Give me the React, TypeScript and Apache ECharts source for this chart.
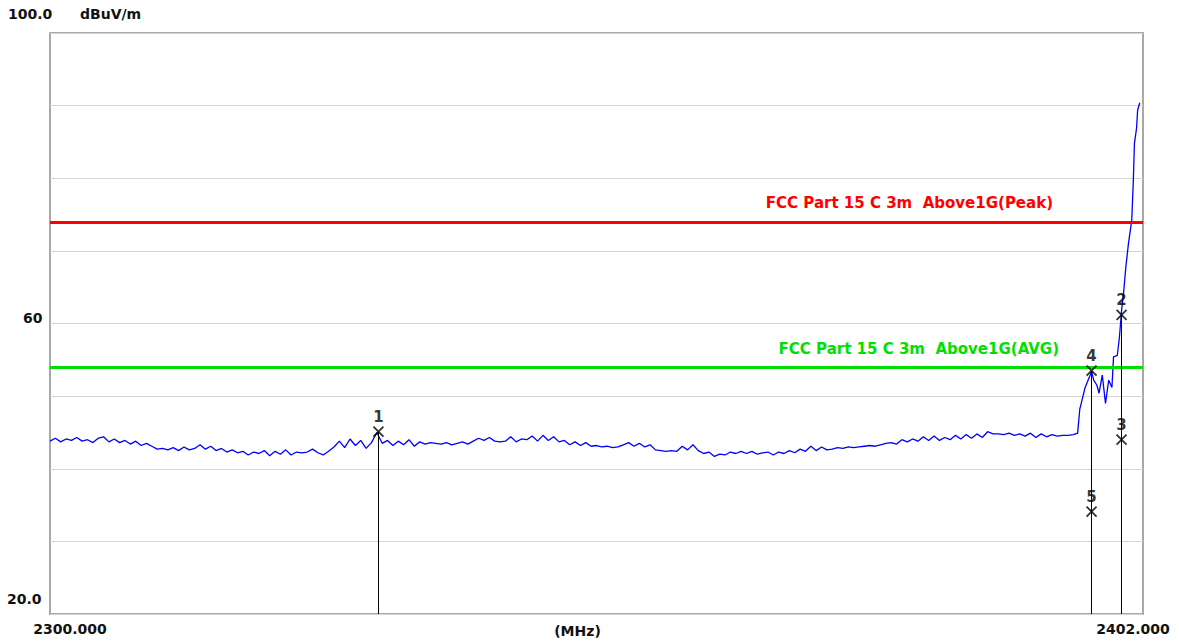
import React, { useEffect, useRef } from "react";
import * as echarts from "echarts";

const startFreq = 2300;
const stepFreq = 0.5;
const sweepLevels = [
  43.8, 44.2, 43.7, 44.1, 43.9, 44.3, 43.8, 44.0, 43.6, 44.2,
  44.4, 43.7, 44.1, 43.6, 43.9, 43.4, 43.8, 43.2, 43.5, 43.1,
  42.7, 42.8, 42.6, 42.9, 42.5, 43.0, 42.6, 42.8, 43.3, 42.7,
  43.1, 42.5, 42.8, 42.3, 42.6, 42.2, 42.4, 41.9, 42.3, 42.1,
  42.5, 41.8, 42.4, 42.0, 42.6, 41.9, 42.3, 42.2, 42.3, 42.7,
  42.2, 41.9, 42.4, 43.0, 43.8, 42.9, 44.1, 43.2, 43.9, 42.8,
  43.6, 45.0, 43.5, 43.9, 43.2, 43.8, 43.3, 44.0, 43.1, 43.7,
  43.4, 43.6, 43.5, 43.4, 43.6, 43.3, 43.5, 43.7, 43.4, 43.8,
  44.2, 43.9, 44.3, 43.8, 43.7, 43.8, 44.4, 43.7, 44.1, 44.0,
  44.5, 43.8, 44.6, 43.9, 44.4, 43.7, 43.9, 43.3, 43.7, 43.2,
  43.6, 43.1, 43.2, 43.0, 43.1, 42.9, 43.0, 43.3, 43.6, 43.1,
  43.5, 43.0, 43.3, 42.6, 42.5, 42.4, 42.5, 42.4, 43.1, 42.6,
  43.3, 42.5, 42.1, 42.3, 41.7, 42.0, 41.9, 42.3, 42.1, 42.4,
  42.1, 42.4, 42.0, 42.2, 42.3, 41.9, 42.3, 42.1, 42.5, 42.2,
  42.7, 42.4, 43.1, 42.5, 43.0, 42.6, 42.7, 42.9, 42.8, 43.0,
  42.9, 43.0, 43.1, 43.2, 43.1, 43.3, 43.5, 43.6, 43.4, 44.0,
  43.7, 44.1, 43.8, 44.4, 43.9, 44.5, 43.9, 44.3, 44.0, 44.6,
  44.1, 44.7, 44.2, 44.8, 44.3, 45.1, 44.8, 44.8, 44.7, 44.9,
  44.6, 44.8, 44.5, 44.9, 44.3, 44.8, 44.4, 44.7, 44.5, 44.6,
  44.6, 44.7,
];
const tailFreqs = [
  2395.9, 2396.1, 2396.2, 2396.6, 2397.1, 2397.2, 2397.4, 2397.7, 2397.9, 2398.2,
  2398.5, 2398.8, 2399.1, 2399.25, 2399.6, 2399.8, 2400.0, 2400.2, 2400.4, 2400.65,
  2400.95, 2401.1, 2401.2, 2401.4, 2401.5, 2401.7,
];
const tailLevels = [
  44.9, 48.2, 48.8, 51.2, 53.0, 53.4, 52.2, 51.5, 50.4, 52.9,
  49.0, 52.2, 51.2, 55.4, 55.6, 58.1, 61.8, 64.4, 67.8, 71.1,
  74.2, 79.8, 84.8, 86.9, 89.4, 90.4,
];

const markerIds = ["1", "2", "3", "4", "5"];
const markerFreqs = [2330.65, 2400.0, 2400.0, 2397.2, 2397.2];
const markerLevels = [45.1, 61.2, 44.0, 53.5, 34.1];

const limitNames = ["FCC Part 15 C 3m  Above1G(Peak)", "FCC Part 15 C 3m  Above1G(AVG)"];
const limitLevels = [74, 54];
const limitColors = ["#ff0000", "#00e000"];
const limitLabelInset = [90, 84];

const xMin = 2300;
const xMax = 2402;
const yMin = 20;
const yMax = 100;

const FONT = "DejaVu Sans";

export default function App() {
  const ref = useRef<HTMLDivElement>(null);
  useEffect(() => {
    document.body.style.margin = "0";
    const chart = echarts.init(ref.current!, null, { renderer: "svg" });

    const trace: number[][] = sweepLevels.map((v, i) => [startFreq + i * stepFreq, v]);
    tailFreqs.forEach((f, i) => trace.push([f, tailLevels[i]]));

    const markerData = markerIds.map((id, i) => ({
      value: [markerFreqs[i], markerLevels[i]],
      name: id,
    }));

    const tops: Record<string, number> = {};
    markerFreqs.forEach((f, i) => {
      const k = String(f);
      tops[k] = tops[k] === undefined ? markerLevels[i] : Math.max(tops[k], markerLevels[i]);
    });
    const dropLines = Object.keys(tops).map((k) => [
      { coord: [Number(k), tops[k]] },
      { coord: [Number(k), yMin] },
    ]);

    const limitLines = limitLevels.map((lv, i) => ({
      yAxis: lv,
      lineStyle: { color: limitColors[i], width: 3, type: "solid" },
      label: {
        show: true,
        position: "insideEndTop",
        distance: [limitLabelInset[i], 11],
        formatter: limitNames[i],
        color: limitColors[i],
        fontFamily: FONT,
        fontSize: 15,
        fontWeight: "bold",
      },
    }));

    chart.setOption({
      animation: false,
      backgroundColor: "#ffffff",
      grid: {
        left: 50,
        right: 36,
        top: 33,
        bottom: 29,
        show: true,
        borderColor: "#a8a8a8",
        borderWidth: 2,
        backgroundColor: "transparent",
        containLabel: false,
        outerBoundsMode: "none",
      },
      xAxis: {
        type: "value",
        min: xMin,
        max: xMax,
        interval: 2,
        name: "(MHz)",
        nameLocation: "middle",
        nameGap: 10,
        nameMoveOverlap: false,
        nameTextStyle: {
          fontFamily: FONT,
          fontSize: 14,
          fontWeight: "bold",
          color: "#111",
          padding: [0, 38, 0, 0],
        },
        axisLine: { show: false },
        axisTick: { show: false },
        splitLine: { show: false },
        axisLabel: {
          showMinLabel: true,
          showMaxLabel: true,
          margin: 8,
          formatter: (v: number) => {
            if (Math.abs(v - xMin) < 1e-6) return "{l|" + v.toFixed(3) + "}";
            if (Math.abs(v - xMax) < 1e-6) return "{r|" + v.toFixed(3) + "}";
            return "";
          },
          rich: {
            l: { fontFamily: FONT, fontSize: 14, fontWeight: "bold", color: "#111", padding: [0, 0, 0, 40] },
            r: { fontFamily: FONT, fontSize: 14, fontWeight: "bold", color: "#111", padding: [0, 20, 0, 0] },
          },
        },
      },
      yAxis: {
        type: "value",
        min: yMin,
        max: yMax,
        interval: 10,
        name: "dBuV/m",
        nameLocation: "end",
        nameGap: 19,
        nameMoveOverlap: false,
        nameTextStyle: {
          fontFamily: FONT,
          fontSize: 14,
          fontWeight: "bold",
          color: "#111",
          align: "left",
          verticalAlign: "middle",
          padding: [0, 0, 0, 30],
        },
        axisLine: { show: false },
        axisTick: { show: false },
        splitLine: { show: true, lineStyle: { color: "#d4d4d4", width: 1 } },
        axisLabel: {
          showMinLabel: true,
          showMaxLabel: true,
          align: "left",
          verticalAlign: "middle",
          margin: 43,
          formatter: (v: number) => {
            if (v === 100) return "{t|100.0}";
            if (v === 60) return "{m|60}";
            if (v === 20) return "{b|20.0}";
            return "";
          },
          rich: {
            t: { fontFamily: FONT, fontSize: 14, fontWeight: "bold", color: "#111", padding: [0, 0, 38, 1] },
            m: { fontFamily: FONT, fontSize: 14, fontWeight: "bold", color: "#111", padding: [0, 0, 12, 16] },
            b: { fontFamily: FONT, fontSize: 14, fontWeight: "bold", color: "#111", padding: [0, 0, 30, 0] },
          },
        },
      },
      series: [
        {
          type: "line",
          name: "trace",
          data: trace,
          symbol: "none",
          lineStyle: { color: "#0000ff", width: 1.3 },
          z: 3,
          markLine: {
            silent: true,
            symbol: "none",
            z: 4,
            data: limitLines,
          },
        },
        {
          type: "scatter",
          name: "markers",
          data: markerData,
          symbol: "path://M0,0L10,10M10,0L0,10",
          symbolSize: 10,
          itemStyle: { color: "transparent", borderColor: "#000", borderWidth: 1.8 },
          label: {
            show: true,
            position: "top",
            distance: 1,
            formatter: (p: any) => p.name,
            fontFamily: FONT,
            fontSize: 15,
            fontWeight: "bold",
            color: "#000",
          },
          z: 6,
          markLine: {
            silent: true,
            symbol: "none",
            label: { show: false },
            lineStyle: { color: "#000", width: 1, type: "solid" },
            data: dropLines,
          },
        },
      ],
    });
    return () => chart.dispose();
  }, []);
  return <div ref={ref} style={{ width: 1179, height: 643 }} />;
}
